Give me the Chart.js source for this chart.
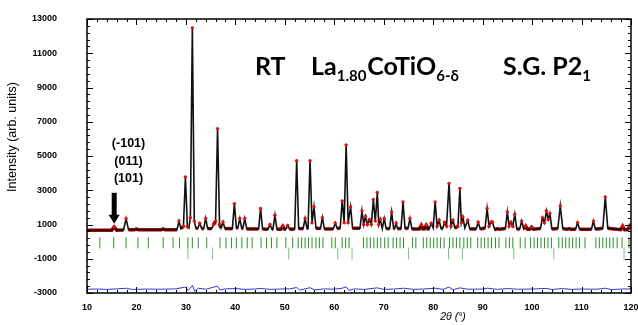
<!DOCTYPE html>
<html>
<head>
<meta charset="utf-8">
<script src="https://cdn.jsdelivr.net/npm/chart.js@4.4.0/dist/chart.umd.min.js"></script>
<style>
  html, body { margin: 0; padding: 0; background: #fff; }
  #wrap { width: 638px; height: 325px; }
</style>
</head>
<body>
<div id="wrap"><canvas id="chartCanvas" width="638" height="325"></canvas></div>
<script>
const profile = [
  [10,660],[15.0,670],[15.5,850],[16.0,670],[17.4,680],[17.9,1345],[18.4,690],[19.6,690],[20.0,740],[20.4,690],
  [25.0,690],[25.4,740],[25.8,690],[28.2,700],[28.6,1200],[29.0,760],[29.5,900],[29.9,3780],[30.3,900],[30.6,800],
  [30.9,1400],[31.3,12480],[31.7,1200],[32.0,800],[32.4,760],[32.8,1070],[33.2,760],[33.6,760],[34.0,1360],[34.4,760],
  [35.2,760],[35.6,1000],[36.0,1200],[36.4,6600],[36.8,1000],[37.1,800],[37.5,1150],[37.9,760],[39.4,760],[39.8,2220],
  [40.2,800],[40.5,800],[40.9,1350],[41.3,760],[41.5,760],[41.9,1350],[42.3,740],[44.7,740],[45.1,1930],[45.5,740],
  [46.6,720],[47.0,1000],[47.4,720],[47.6,720],[48.0,1540],[48.4,720],[49.2,720],[49.6,900],[50.0,720],[50.2,720],
  [50.6,950],[51.0,720],[52.0,740],[52.4,4720],[52.8,760],[53.7,760],[54.1,1350],[54.5,760],[54.7,780],[55.1,4720],
  [55.5,1100],[55.9,2030],[56.3,780],[57.2,760],[57.6,1400],[58.0,740],[59.8,740],[60.2,1090],[60.6,760],[61.2,800],
  [61.6,2380],[62.0,1100],[62.4,5640],[62.8,1100],[63.3,2030],[63.7,780],[65.2,780],[65.6,1790],[65.95,1000],[66.3,1480],
  [66.7,1000],[67.1,1300],[67.5,1000],[67.9,2460],[68.3,1200],[68.7,2870],[69.0,1000],[69.3,1300],[69.7,760],[70.1,1350],
  [70.5,760],[71.2,760],[71.6,1730],[72.0,760],[72.2,760],[72.5,1090],[72.8,760],[73.5,760],[73.9,2320],[74.3,800],
  [74.9,760],[75.3,1350],[75.7,740],[77.2,740],[77.6,950],[78.0,740],[78.2,740],[78.6,950],[79.0,740],[79.2,740],
  [79.6,1070],[80.0,800],[80.4,2320],[80.8,900],[81.2,1250],[81.6,760],[81.9,760],[82.3,1130],[82.7,900],[83.2,3400],
  [83.6,900],[84.0,1250],[84.4,800],[85.0,900],[85.4,3100],[85.7,1100],[86.0,1440],[86.4,800],[87.0,1250],[87.4,740],
  [88.7,740],[89.1,1130],[89.5,740],[90.5,800],[90.9,1930],[91.3,900],[91.7,1150],[92.0,1130],[92.4,740],[92.6,720],
  [93.0,760],[93.4,720],[94.6,760],[95.0,1730],[95.35,900],[95.7,1150],[96.1,900],[96.5,1600],[96.9,740],[97.5,740],
  [97.9,1200],[98.3,740],[98.7,900],[99.1,720],[99.5,720],[99.9,850],[100.3,720],[101.7,760],[102.1,1400],[102.5,1100],
  [102.9,1790],[103.25,1300],[103.6,1640],[104.0,740],[105.2,760],[105.7,2090],[106.2,760],[107.1,720],[107.5,760],[107.9,720],
  [108.8,720],[109.2,1110],[109.6,720],[112.0,720],[112.4,1200],[112.8,720],[114.3,780],[114.8,2610],[115.3,780],[117.9,700],
  [118.3,900],[118.7,700],[119.3,700],[119.7,900],[120,780]
];

// difference curve (obs - calc, shifted)
const difference = [
  [10,-2780],[12,-2770],[14,-2790],[16,-2760],[18,-2720],[19,-2790],[22,-2770],[25,-2780],[28,-2760],[29.9,-2650],
  [30.5,-2850],[31.3,-2550],[31.8,-2900],[32.5,-2720],[34,-2780],[36.4,-2600],[36.9,-2820],[38,-2760],[40,-2740],[42,-2790],
  [44,-2770],[45,-2730],[47,-2790],[49,-2770],[51,-2760],[52.4,-2680],[53,-2830],[55.1,-2690],[56,-2820],[58,-2760],
  [60,-2780],[61.6,-2720],[62.4,-2640],[63,-2850],[64,-2760],[66,-2790],[68.7,-2700],[70,-2790],[72,-2770],[74,-2720],
  [76,-2790],[78,-2770],[80.4,-2720],[82,-2790],[83.2,-2650],[84,-2810],[85.4,-2700],[87,-2780],[90,-2770],[91,-2720],
  [93,-2790],[95,-2740],[97,-2780],[100,-2770],[103,-2730],[104,-2800],[106,-2740],[108,-2790],[110,-2770],[113,-2780],
  [114.8,-2720],[116,-2800],[118,-2770],[120,-2760]
];

// Bragg reflection positions
const braggMain = [12.6,15.4,17.9,20.3,22.4,25.4,27.4,28.7,30.4,31.3,32.5,34.2,36.9,38.1,39.2,40.2,41.3,42.4,43.4,
  45.2,46.3,47.3,48.4,50.2,51.6,52.7,53.4,54.1,54.8,55.5,56.3,57.0,57.7,59.5,60.2,61.6,62.3,63.0,65.9,66.6,67.3,
  68.0,68.7,69.4,70.2,70.9,71.9,72.6,73.3,74.0,75.8,76.5,78.0,78.7,79.4,80.1,80.8,81.5,82.2,83.3,84.0,84.7,85.4,
  86.2,86.9,87.6,89.0,89.7,90.4,91.1,91.8,92.6,93.3,94.7,95.4,96.1,97.6,98.6,99.7,100.4,101.1,101.8,102.5,103.2,
  103.9,105.4,106.1,106.8,107.5,108.2,108.9,109.6,110.7,112.9,113.6,114.3,115.0,115.7,116.4,117.2,118.2,119.6];
const braggSecond = [30.4,35.4,50.8,60.7,63.6,75.0,83.1,85.9,96.3,104.4,118.6];
const braggRowMain = -72;
const braggRowSecond = -690;

const xTicks = [10,20,30,40,50,60,70,80,90,100,110,120];
const yTicks = [-3000,-1000,1000,3000,5000,7000,9000,11000,13000];
const hklLabels = ['(-101)', '(011)', '(101)'];

const pts = (arr) => arr.map(p => ({x: p[0], y: p[1]}));
const tickFont = 'bold 9px "Liberation Sans", Arial, sans-serif';

const framePlugin = {
    id: 'frame',
    afterDatasetsDraw(chart) {
        const ctx = chart.ctx;
        const a = chart.chartArea;
        const xs = chart.scales.x, ys = chart.scales.y;
        ctx.save();
        ctx.strokeStyle = '#000';
        ctx.lineWidth = 1;
        // minor + major ticks, inside on all four sides
        for (let v = xTicks[0]; v <= xTicks[xTicks.length - 1]; v += 2) {
            const px = Math.round(xs.getPixelForValue(v)) + 0.5;
            const len = (v % 10 === 0) ? 6 : 3;
            ctx.beginPath();
            ctx.moveTo(px, a.bottom); ctx.lineTo(px, a.bottom - len);
            ctx.moveTo(px, a.top); ctx.lineTo(px, a.top + len);
            ctx.stroke();
        }
        for (let v = yTicks[0]; v <= yTicks[yTicks.length - 1]; v += 400) {
            const py = Math.round(ys.getPixelForValue(v)) + 0.5;
            const len = ((v + 3000) % 2000 === 0) ? 6 : 3;
            ctx.beginPath();
            ctx.moveTo(a.left, py); ctx.lineTo(a.left + len, py);
            ctx.moveTo(a.right, py); ctx.lineTo(a.right - len, py);
            ctx.stroke();
        }
        ctx.lineWidth = 1.5;
        ctx.strokeRect(a.left, a.top, a.right - a.left, a.bottom - a.top);

        // tick labels
        ctx.fillStyle = '#000';
        ctx.font = tickFont;
        ctx.textAlign = 'center';
        ctx.textBaseline = 'middle';
        xTicks.forEach(v => ctx.fillText(String(v), xs.getPixelForValue(v), a.bottom + 15));
        ctx.textAlign = 'right';
        yTicks.forEach(v => ctx.fillText(String(v), a.left - 30, ys.getPixelForValue(v)));

        // arrow pointing to the weak reflection
        const ax = xs.getPixelForValue(15.5);
        const aTop = ys.getPixelForValue(2850);
        const aTip = ys.getPixelForValue(1050);
        ctx.fillRect(ax - 2.5, aTop, 5, aTip - aTop - 8);
        ctx.beginPath();
        ctx.moveTo(ax - 5.5, aTip - 9);
        ctx.lineTo(ax + 5.5, aTip - 9);
        ctx.lineTo(ax, aTip);
        ctx.closePath();
        ctx.fill();

        // hkl labels
        ctx.font = 'bold 12.5px "Liberation Sans", Arial, sans-serif';
        ctx.textAlign = 'center';
        const hx = xs.getPixelForValue(18.4);
        const hy = [5700, 4674, 3666];
        hklLabels.forEach((t, i) => ctx.fillText(t, hx, ys.getPixelForValue(hy[i])));

        // title with subscripts
        ctx.textAlign = 'left';
        ctx.textBaseline = 'alphabetic';
        const big = 'bold 25px Lato, "Open Sans", sans-serif';
        const small = 'bold 15px Lato, "Open Sans", sans-serif';
        const base = 75;
        function run(parts, x) {
            parts.forEach(p => {
                ctx.font = p[1] ? small : big;
                ctx.fillText(p[0], x, base + (p[1] ? 6 : 0));
                x += ctx.measureText(p[0]).width + (p[1] ? 1 : 0);
            });
        }
        run([['RT', 0]], 255);
        run([['La', 0], ['1.80', 1], ['CoTiO', 0], ['6-δ', 1]], 311);
        run([['S.G. P2', 0], ['1', 1]], 503);

        // axis titles
        ctx.font = '12.5px "Liberation Sans", Arial, sans-serif';
        ctx.textAlign = 'center';
        ctx.textBaseline = 'middle';
        ctx.save();
        ctx.translate(13, 137);
        ctx.rotate(-Math.PI / 2);
        ctx.fillText('Intensity (arb. units)', 0, 0);
        ctx.restore();
        ctx.font = 'italic 10.5px "Liberation Sans", Arial, sans-serif';
        ctx.fillText('2θ (°)', 453, 317);
        ctx.restore();
    }
};

const ctx = document.getElementById('chartCanvas').getContext('2d');
new Chart(ctx, {
    type: 'scatter',
    data: {
        datasets: [
            {
                label: 'obs points',
                data: pts(profile),
                showLine: false,
                pointRadius: (c) => (c.raw && c.raw.y > 840) ? 1.7 : 0,
                pointBackgroundColor: '#e01010',
                pointBorderWidth: 0,
                order: 0
            },
            {
                label: 'calc',
                data: pts(profile),
                showLine: true,
                borderColor: '#111',
                borderWidth: 1.6,
                pointRadius: 0,
                order: 1
            },
            {
                label: 'obs',
                data: pts(profile),
                showLine: true,
                borderColor: '#a80000',
                borderWidth: 3.5,
                pointRadius: 0,
                segment: {
                    borderColor: (c) => Math.abs(c.p1.parsed.y - c.p0.parsed.y) > 220 ? 'rgba(0,0,0,0)' : '#a80000'
                },
                order: 2
            },
            {
                label: 'diff',
                data: pts(difference),
                showLine: true,
                borderColor: '#3434d8',
                borderWidth: 1,
                pointRadius: 0,
                order: 3
            },
            {
                label: 'bragg',
                data: braggMain.map(v => ({x: v, y: braggRowMain})),
                pointStyle: 'line',
                rotation: 90,
                pointRadius: 5.5,
                pointBorderColor: '#2b902b',
                pointBorderWidth: 1,
                order: 4
            },
            {
                label: 'bragg 2',
                data: braggSecond.map(v => ({x: v, y: braggRowSecond})),
                pointStyle: 'line',
                rotation: 90,
                pointRadius: 6,
                pointBorderColor: '#79c479',
                pointBorderWidth: 1,
                order: 5
            }
        ]
    },
    options: {
        responsive: false,
        devicePixelRatio: 1,
        animation: false,
        events: [],
        layout: { padding: { left: 0, right: 6, top: 19, bottom: 0 } },
        plugins: { legend: { display: false }, tooltip: { enabled: false } },
        scales: {
            x: {
                type: 'linear',
                min: 10,
                max: 120,
                afterFit: (s) => { s.height = 32; },
                grid: { display: false },
                border: { display: false },
                ticks: { display: false }
            },
            y: {
                min: -3000,
                max: 13000,
                afterFit: (s) => { s.width = 87; },
                grid: { display: false },
                border: { display: false },
                ticks: { display: false }
            }
        }
    },
    plugins: [framePlugin]
});
</script>
</body>
</html>
